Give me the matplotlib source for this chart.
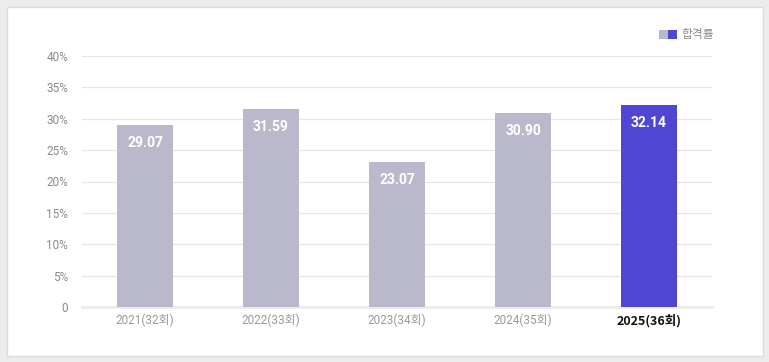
import matplotlib
matplotlib.use("Agg")
import matplotlib.pyplot as plt
from matplotlib.patches import Rectangle

categories = ["2021(32회)", "2022(33회)", "2023(34회)", "2024(35회)", "2025(36회)"]
pass_rates = [29.07, 31.59, 23.07, 30.90, 32.14]
bar_colors = ["#bab9cb", "#bab9cb", "#bab9cb", "#bab9cb", "#5046d4"]
y_ticks = [0, 5, 10, 15, 20, 25, 30, 35, 40]
y_tick_labels = ["0", "5%", "10%", "15%", "20%", "25%", "30%", "35%", "40%"]
legend_label = "합격률"

fam = ["Roboto", "Noto Sans CJK KR", "DejaVu Sans"]
plt.rcParams['font.family'] = fam

fig = plt.figure(figsize=(7.69, 3.62), dpi=100)
fig.patch.set_facecolor("#ececec")
fig.patches.append(Rectangle((6.5/769, 1 - 355.5/362), 756/769, 349/362,
                             transform=fig.transFigure, facecolor="white",
                             edgecolor="#dcdcdc", linewidth=1, zorder=-5))

ax = fig.add_axes([82/769, 55/362, 630/769, 251/362])
ax.set_zorder(2)
ax.set_facecolor("none")
x = list(range(len(categories)))
bars = ax.bar(x, pass_rates, width=0.437, color=bar_colors, zorder=2)
for xi, v in zip(x, pass_rates):
    ax.annotate(f"{v:.2f}", (xi, v), xytext=(0, -18), textcoords="offset pixels",
                ha="center", va="center", color="white", fontsize=10,
                fontweight="bold", zorder=3)

ax.set_xlim(-0.5, len(categories) - 0.5)
ax.set_ylim(0, 40)
ax.set_yticks(y_ticks)
ax.set_yticklabels(y_tick_labels)
ax.set_xticks(x)
ax.set_xticklabels(categories)
ax.tick_params(axis="y", length=0, pad=10, labelsize=8.5, labelcolor="#8a8a8a")
ax.tick_params(axis="x", length=0, pad=5, labelsize=8.5, labelcolor="#9a9a9a")
labels = ax.get_xticklabels()
labels[-1].set_color("#111111")
labels[-1].set_fontweight("bold")
labels[-1].set_fontfamily(["Noto Sans CJK KR", "DejaVu Sans"])
labels[-1].set_fontsize(9)
ax.grid(axis="y", color="#e6e6e6", linewidth=0.9, zorder=0)
for s in ["top", "right", "left"]:
    ax.spines[s].set_visible(False)
ax.spines["bottom"].set_color("#ebebeb")
ax.spines["bottom"].set_linewidth(2)
ax.spines["bottom"].set_zorder(1)

# legend
fig.patches.append(Rectangle((659/769, 1 - 39/362), 9/769, 9/362, transform=fig.transFigure,
                             facecolor="#bab9cb", edgecolor="none", zorder=3))
fig.patches.append(Rectangle((668/769, 1 - 39/362), 9/769, 9/362, transform=fig.transFigure,
                             facecolor="#5046d4", edgecolor="none", zorder=3))
fig.text(681/769, 1 - 34.5/362, legend_label, ha="left", va="center", fontsize=8.5,
         color="#8a8a8a")

fig.savefig("out.png", dpi=100, facecolor=fig.get_facecolor())
